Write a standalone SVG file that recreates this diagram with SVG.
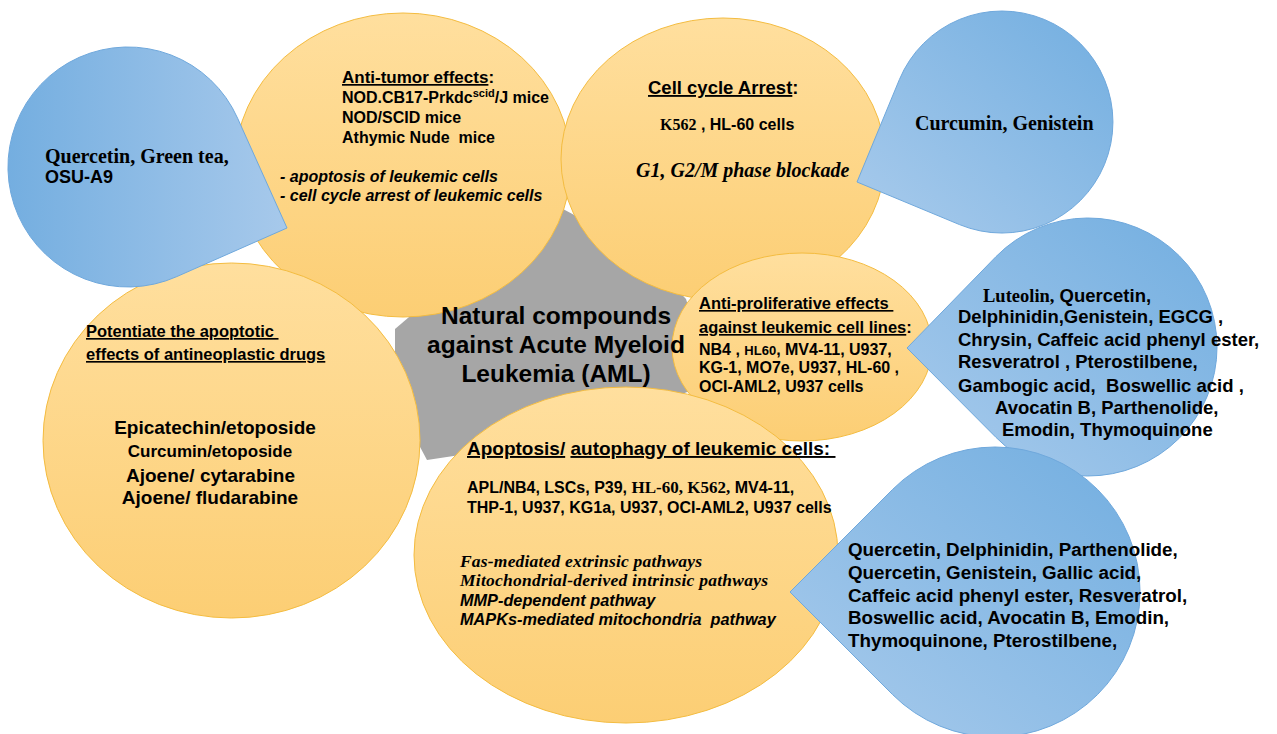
<svg xmlns="http://www.w3.org/2000/svg" width="1277" height="734" viewBox="0 0 1277 734">
<defs>
<linearGradient id="yel" x1="0" y1="0" x2="0" y2="1">
<stop offset="0" stop-color="#FFDF9E"/>
<stop offset="1" stop-color="#FCCE74"/>
</linearGradient>
<linearGradient id="blueL" x1="0" y1="0.5" x2="1" y2="0.5">
<stop offset="0" stop-color="#74AEE0"/>
<stop offset="1" stop-color="#A7C9EB"/>
</linearGradient>
<linearGradient id="blueR" x1="1" y1="0" x2="0" y2="1">
<stop offset="0" stop-color="#72AEE0"/>
<stop offset="1" stop-color="#A9CBEC"/>
</linearGradient>
<style>
.yc{fill:url(#yel);stroke:#F4BC40;stroke-width:1}
.bl{stroke:#6FA8DC;stroke-width:1}
.s{font-family:"Liberation Sans",Arial,Helvetica,sans-serif;font-weight:bold;fill:#000}
.sf{font-family:"Liberation Serif","Times New Roman",serif;font-weight:bold;fill:#000}
.it{font-style:italic}
.u{text-decoration:underline}
</style>
</defs>
<rect width="1277" height="734" fill="#FFFFFF"/>
<g id="center">
<polygon points="563,209 640,250 686,299 700,345 690,391 560,440 427,460 395,400 395,329 470,265" fill="#A6A6A6"/>
</g>
<g id="connectors"></g>
<g id="anti-tumor">
<ellipse class="yc" cx="403" cy="165" rx="168" ry="152"/>
<text class="s" x="342" y="83" font-size="17"><tspan class="u">Anti-tumor effects</tspan>:</text>
<text class="s" x="342" y="103" font-size="16">NOD.CB17-Prkdc<tspan font-size="11" dy="-6">scid</tspan><tspan dy="6">/J mice</tspan></text>
<text class="s" x="342" y="123" font-size="16">NOD/SCID mice</text>
<text class="s" x="342" y="143" font-size="16" xml:space="preserve">Athymic Nude  mice</text>
<text class="s it" x="280" y="182" font-size="16">- apoptosis of leukemic cells</text>
<text class="s it" x="280" y="201" font-size="16">- cell cycle arrest of leukemic cells</text>
</g>
<g id="cell-cycle">
<ellipse class="yc" cx="723" cy="159" rx="162" ry="141"/>
<text class="s" x="648" y="94" font-size="18.5"><tspan class="u">Cell cycle Arrest</tspan>:</text>
<text class="s" x="660" y="130" font-size="16"><tspan class="sf">K562</tspan> , HL-60 cells</text>
<text class="sf it" x="636" y="177" font-size="20">G1, G2/M phase blockade</text>
</g>
<g id="potentiate">
<ellipse class="yc" cx="231.5" cy="440.5" rx="188.5" ry="177.5"/>
<text class="s u" x="86" y="337" font-size="16.5" xml:space="preserve">Potentiate the apoptotic </text>
<text class="s u" x="86" y="360" font-size="16.5">effects of antineoplastic drugs</text>
<text class="s" x="215" y="434" font-size="19" text-anchor="middle">Epicatechin/etoposide</text>
<text class="s" x="210" y="457" font-size="17" text-anchor="middle">Curcumin/etoposide</text>
<text class="s" x="210.5" y="482" font-size="19" text-anchor="middle">Ajoene/ cytarabine</text>
<text class="s" x="210" y="504" font-size="19" text-anchor="middle">Ajoene/ fludarabine</text>
</g>
<g id="anti-proliferative">
<ellipse class="yc" cx="802" cy="347" rx="130" ry="94"/>
<text class="s u" x="699" y="309" font-size="16.5" xml:space="preserve">Anti-proliferative effects </text>
<text class="s" x="699" y="333" font-size="16.5"><tspan class="u">against leukemic cell lines</tspan>:</text>
<text class="s" x="699" y="355" font-size="16">NB4 , <tspan font-size="13">HL60</tspan>, MV4-11, U937,</text>
<text class="s" x="699" y="373" font-size="16">KG-1, MO7e, U937, HL-60 ,</text>
<text class="s" x="699" y="392" font-size="16">OCI-AML2, U937 cells</text>
</g>
<g id="apoptosis">
<ellipse class="yc" cx="626" cy="555" rx="212" ry="168"/>
<text class="s" x="467" y="455" font-size="19" xml:space="preserve"><tspan class="u">Apoptosis/</tspan> <tspan class="u">autophagy of leukemic cells: </tspan></text>
<text class="s" x="467" y="493" font-size="16">APL/NB4, LSCs, P39, <tspan class="sf" font-weight="normal" font-size="17">HL-60, K562,</tspan> MV4-11,</text>
<text class="s" x="467" y="513" font-size="16">THP-1, U937, KG1a, U937, OCI-AML2, U937 cells</text>
<text class="sf it" x="460" y="567" font-size="17.5" textLength="242">Fas-mediated extrinsic pathways</text>
<text class="sf it" x="460" y="586" font-size="17.5" textLength="308">Mitochondrial-derived intrinsic pathways</text>
<text class="s it" x="460" y="606" font-size="16.3">MMP-dependent pathway</text>
<text class="s it" x="460" y="625" font-size="16.3" xml:space="preserve">MAPKs-mediated mitochondria  pathway</text>
</g>
<g id="compounds-antitumor">
<path class="bl" fill="url(#blueL)" d="M287,228 L237.6,118.2 A120,120 0 1 0 176.8,276.6 Z"/>
<text class="sf" x="45" y="163" font-size="20">Quercetin, Green tea,</text>
<text class="s" x="45" y="183" font-size="18">OSU-A9</text>
</g>
<g id="compounds-cellcycle">
<path class="bl" fill="url(#blueR)" d="M857,182 L959.5,224.6 A111,111 0 1 0 899.4,79.5 Z"/>
<text class="sf" x="915" y="130" font-size="20">Curcumin, Genistein</text>
</g>
<g id="compounds-antiproliferative">
<path class="bl" fill="url(#blueR)" d="M907,348 L996,437.4 A129,129 0 1 0 996,256.6 Z"/>
<text class="s" x="983" y="302" font-size="18.5"><tspan class="sf">Luteolin,</tspan> Quercetin,</text>
<text class="s" x="958" y="323" font-size="18.5">Delphinidin,Genistein, EGCG ,</text>
<text class="s" x="958" y="346" font-size="18.5">Chrysin, Caffeic acid phenyl ester,</text>
<text class="s" x="958" y="368" font-size="18.5">Resveratrol , Pterostilbene,</text>
<text class="s" x="958" y="392" font-size="18.5" xml:space="preserve">Gambogic acid,  Boswellic acid ,</text>
<text class="s" x="995" y="414" font-size="18.5">Avocatin B, Parthenolide,</text>
<text class="s" x="1002" y="436" font-size="18.5">Emodin, Thymoquinone</text>
</g>
<g id="compounds-apoptosis">
<path class="bl" fill="url(#blueR)" d="M790,592 L892.5,694.5 A145,145 0 1 0 892.5,489.5 Z"/>
<text class="s" x="848" y="556" font-size="18.8">Quercetin, Delphinidin, Parthenolide,</text>
<text class="s" x="848" y="579" font-size="18.8">Quercetin, Genistein, Gallic acid,</text>
<text class="s" x="848" y="602" font-size="18.8">Caffeic acid phenyl ester, Resveratrol,</text>
<text class="s" x="848" y="624" font-size="18.8">Boswellic acid, Avocatin B, Emodin,</text>
<text class="s" x="848" y="647" font-size="18.8">Thymoquinone, Pterostilbene,</text>
</g>
<g id="center-label">
<text class="s" x="556" y="324" font-size="24.5" text-anchor="middle">Natural compounds</text>
<text class="s" x="556" y="353" font-size="24.5" text-anchor="middle">against Acute Myeloid</text>
<text class="s" x="556" y="382" font-size="24.5" text-anchor="middle">Leukemia (AML)</text>
</g>
</svg>
